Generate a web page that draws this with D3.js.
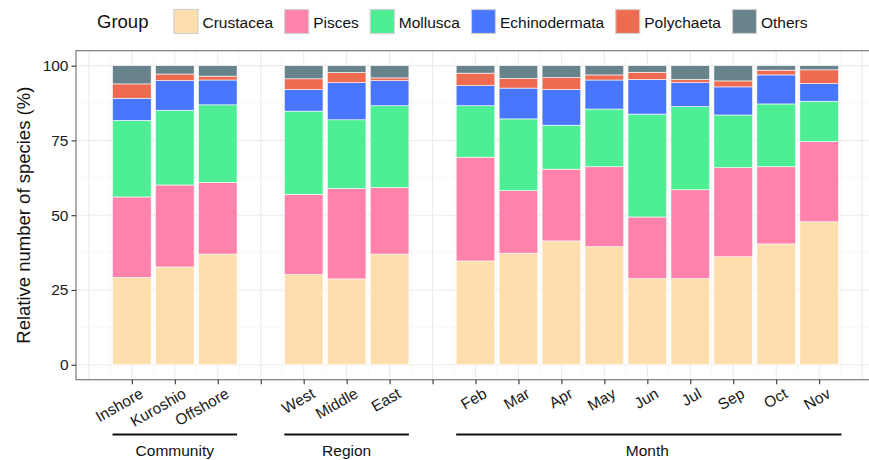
<!DOCTYPE html>
<html>
<head>
<meta charset="utf-8">
<script src="https://cdn.jsdelivr.net/npm/d3@7"></script>
<style>
  html, body { margin: 0; padding: 0; background: #fff; }
  svg { display: block; font-family: "Liberation Sans", Arial, sans-serif; }
</style>
</head>
<body>
<svg id="chart" width="869" height="460"></svg>
<script>
// ---------- data ----------
const tickLabels = ["Inshore","Kuroshio","Offshore","","West","Middle","East","","Feb","Mar","Apr","May","Jun","Jul","Sep","Oct","Nov"];
const categories = ["Inshore","Kuroshio","Offshore","West","Middle","East","Feb","Mar","Apr","May","Jun","Jul","Sep","Oct","Nov"];
const seriesNames = ["Crustacea","Pisces","Mollusca","Echinodermata","Polychaeta","Others"];
const crustacea     = [29.2,32.7,37.0,30.2,28.7,37.0,34.7,37.3,41.4,39.5,28.8,28.8,36.1,40.4,47.8];
const pisces        = [26.9,27.4,24.0,26.8,30.2,22.2,34.7,20.9,24.0,26.7,20.6,29.7,29.8,25.8,26.8];
const mollusca      = [25.6,25.0,25.9,27.8,23.0,27.4,17.2,24.0,14.7,19.3,34.4,27.8,17.6,21.0,13.5];
const echinodermata = [7.4,9.9,8.3,7.2,12.4,8.4,6.7,10.3,11.9,9.7,11.6,8.0,9.4,9.7,5.9];
const polychaeta    = [4.8,2.2,1.3,3.6,3.4,0.9,4.2,3.2,4.0,1.7,2.4,1.1,2.0,1.6,4.6];
const others        = [6.1,2.8,3.5,4.4,2.3,4.1,2.5,4.3,4.0,3.1,2.2,4.6,5.1,1.5,1.4];
const yTicks = [0,25,50,75,100];
const groupNames = ["Community","Region","Month"];
const groupMembers = [["Inshore","Kuroshio","Offshore"],["West","Middle","East"],["Feb","Mar","Apr","May","Jun","Jul","Sep","Oct","Nov"]];
const colors = ["#FFDEAD","#FF82AB","#4EEE94","#4876FF","#EE6A50","#68838B"];

// ---------- build table ----------
const seriesValues = [crustacea,pisces,mollusca,echinodermata,polychaeta,others];
const table = categories.map((c,i) => {
  const row = {cat: c, pos: tickLabels.indexOf(c) + 1};
  seriesNames.forEach((s,j) => row[s] = seriesValues[j][i]);
  return row;
});
const stacked = d3.stack().keys(seriesNames)(table);

// ---------- layout ----------
const svg = d3.select("#chart");
const P = {left: 76, right: 875, top: 50.7, bottom: 379.7};
const x = d3.scaleLinear().domain([-0.3, 18.3]).range([P.left, P.right]);
const y = d3.scaleLinear().domain([-5, 105]).range([P.bottom, P.top]);
const step = x(2) - x(1);
const bw = step * 0.9;

const g = svg.append("g");
g.append("rect").attr("x",P.left).attr("y",P.top).attr("width",P.right-P.left).attr("height",P.bottom-P.top).attr("fill","#fff");

// minor grid
const minorY = d3.range(-0, 105, 12.5).filter(v => v % 25 !== 0);
g.selectAll(".gyminor").data(minorY).join("line")
  .attr("x1",P.left).attr("x2",P.right).attr("y1",d=>y(d)).attr("y2",d=>y(d))
  .attr("stroke","#f4f4f4").attr("stroke-width",0.6);
const minorX = d3.range(0.5, 18, 1);
g.selectAll(".gxminor").data(minorX).join("line")
  .attr("y1",P.top).attr("y2",P.bottom).attr("x1",d=>x(d)).attr("x2",d=>x(d))
  .attr("stroke","#f4f4f4").attr("stroke-width",0.6);
// major grid
g.selectAll(".gy").data(yTicks).join("line")
  .attr("x1",P.left).attr("x2",P.right).attr("y1",d=>y(d)).attr("y2",d=>y(d))
  .attr("stroke","#ebebeb").attr("stroke-width",1.1);
g.selectAll(".gx").data(d3.range(0, 19)).join("line")
  .attr("y1",P.top).attr("y2",P.bottom).attr("x1",d=>x(d)).attr("x2",d=>x(d))
  .attr("stroke","#ebebeb").attr("stroke-width",1.1);

// bars
g.selectAll(".layer").data(stacked).join("g")
  .attr("fill",(d,i)=>colors[i])
  .selectAll("rect").data(d=>d).join("rect")
  .attr("x",d=>x(d.data.pos)-bw/2)
  .attr("width",bw)
  .attr("y",d=>y(d[1]))
  .attr("height",d=>y(d[0])-y(d[1]))
  .attr("stroke","#fff").attr("stroke-width",0.6);

// panel border
g.append("rect").attr("x",P.left).attr("y",P.top).attr("width",P.right-P.left).attr("height",P.bottom-P.top)
  .attr("fill","none").attr("stroke","#7a7a7a").attr("stroke-width",1.2);

// y axis
const yAxis = d3.axisLeft(y).tickValues(yTicks).tickSize(4.5).tickPadding(3);
const ya = svg.append("g").attr("transform",`translate(${P.left},0)`).call(yAxis);
ya.select(".domain").remove();
ya.selectAll(".tick line").attr("stroke","#333").attr("stroke-width",1.1);
ya.selectAll(".tick text").attr("font-size",15.5).attr("fill","#1a1a1a").attr("font-family","Liberation Sans, Arial, sans-serif");

// x axis
const xAxis = d3.axisBottom(x).tickValues(d3.range(1,18)).tickSize(4.5).tickFormat(d => tickLabels[d-1]);
const xa = svg.append("g").attr("transform",`translate(0,${P.bottom})`).call(xAxis);
xa.select(".domain").remove();
xa.selectAll(".tick line").attr("stroke","#333").attr("stroke-width",1.1);
xa.selectAll(".tick text")
  .attr("font-size",15.5).attr("fill","#1a1a1a").attr("font-family","Liberation Sans, Arial, sans-serif")
  .attr("text-anchor","end").attr("dy",null).attr("y",null)
  .attr("transform","translate(12,17) rotate(-30)");

// y title
svg.append("text").attr("transform",`translate(30,${(y(0)+y(100))/2}) rotate(-90)`)
  .attr("text-anchor","middle").attr("font-size",18.5).attr("fill","#111")
  .text("Relative number of species (%)");

// group brackets
groupNames.forEach((name,i) => {
  const mem = groupMembers[i];
  const x0 = x(tickLabels.indexOf(mem[0])+1) - bw/2;
  const x1 = x(tickLabels.indexOf(mem[mem.length-1])+1) + bw/2;
  svg.append("line").attr("x1",x0).attr("x2",x1 + (i === 2 ? 3 : 0)).attr("y1",434.5).attr("y2",434.5)
    .attr("stroke","#111").attr("stroke-width",2.2);
  svg.append("text").attr("x",(x0+x1)/2).attr("y",456).attr("text-anchor","middle")
    .attr("font-size",15.5).attr("fill","#111").text(name);
});

// legend
const lg = svg.append("g");
lg.append("text").attr("x",97).attr("y",28).attr("font-size",18.5).attr("fill","#111").text("Group");
let lx = 174;
seriesNames.forEach((s,i) => {
  lg.append("rect").attr("x",lx).attr("y",9.5).attr("width",24).attr("height",24)
    .attr("fill",colors[i]).attr("stroke","#d0d0d0").attr("stroke-width",1.2);
  const t = lg.append("text").attr("x",lx+28.5).attr("y",27.5).attr("font-size",15.5).attr("fill","#111").text(s);
  lx += 28.5 + t.node().getComputedTextLength() + 11.5;
});
</script>
</body>
</html>
